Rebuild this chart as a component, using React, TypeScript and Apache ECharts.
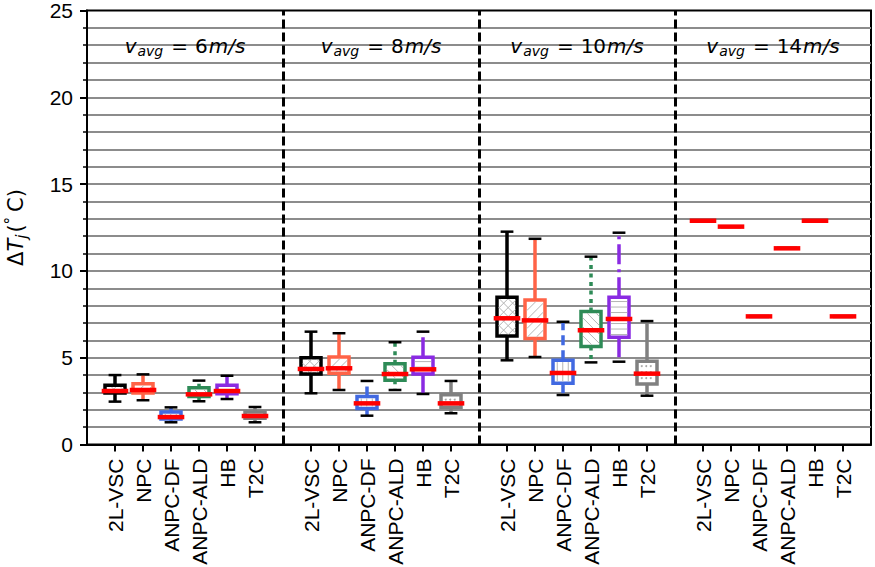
import React, { useEffect, useRef } from 'react';
import * as echarts from 'echarts';

// Converter topologies, repeated in every wind-speed block
const converters = ['2L-VSC', 'NPC', 'ANPC-DF', 'ANPC-ALD', 'HB', 'T2C'];
const windSpeeds = [6, 8, 10, 14];

// [lower whisker, Q1, median, Q3, upper whisker] per converter, in degC
const stats6 = [
  [2.47, 2.97, 3.08, 3.41, 4.0],
  [2.55, 2.97, 3.14, 3.5, 4.04],
  [1.28, 1.47, 1.58, 1.87, 2.14],
  [2.49, 2.77, 2.89, 3.27, 3.68],
  [2.62, 2.93, 3.08, 3.41, 3.96],
  [1.28, 1.51, 1.64, 1.87, 2.16],
];
const stats8 = [
  [2.95, 4.06, 4.35, 5.0, 6.5],
  [3.14, 4.1, 4.39, 5.04, 6.41],
  [1.66, 2.08, 2.37, 2.76, 3.66],
  [3.14, 3.7, 4.06, 4.65, 5.89],
  [2.91, 4.06, 4.33, 5.02, 6.5],
  [1.8, 2.14, 2.37, 2.86, 3.66],
];
const stats10 = [
  [4.85, 6.25, 7.27, 8.48, 12.26],
  [5.04, 6.1, 7.15, 8.33, 11.85],
  [2.85, 3.53, 4.12, 4.85, 7.07],
  [4.73, 5.64, 6.58, 7.66, 10.82],
  [4.77, 6.18, 7.23, 8.48, 12.2],
  [2.81, 3.49, 4.08, 4.79, 7.11],
];
const stats14 = [
  [12.89, 12.89, 12.89, 12.89, 12.89],
  [12.55, 12.55, 12.55, 12.55, 12.55],
  [7.38, 7.38, 7.38, 7.38, 7.38],
  [11.3, 11.3, 11.3, 11.3, 11.3],
  [12.89, 12.89, 12.89, 12.89, 12.89],
  [7.38, 7.38, 7.38, 7.38, 7.38],
];
const statsByWind = [stats6, stats8, stats10, stats14];

// Styling per converter
const boxColors = ['#000000', '#FF6347', '#4169E1', '#2E8B57', '#8A2BE2', '#808080'];
const whiskerDash: (number[] | null)[] = [null, null, [10, 5], [4, 4.5], [20, 5, 3, 5], null];
const hatches = ['x', '/', '|', '\\', '-', '.'];

const GROUP_STRIDE = 7; // six boxes plus one empty slot for the separator
const positions: number[] = [];
windSpeeds.forEach((_, g) => converters.forEach((__, c) => positions.push(g * GROUP_STRIDE + c)));
const separators = [6, 13, 20];

// Liang-Barsky clipping of a segment to a rectangle
function clipSeg(x1: number, y1: number, x2: number, y2: number, rx0: number, ry0: number, rx1: number, ry1: number) {
  const dx = x2 - x1, dy = y2 - y1;
  let t0 = 0, t1 = 1;
  const p = [-dx, dx, -dy, dy];
  const q = [x1 - rx0, rx1 - x1, y1 - ry0, ry1 - y1];
  for (let i = 0; i < 4; i++) {
    if (p[i] === 0) {
      if (q[i] < 0) return null;
    } else {
      const r = q[i] / p[i];
      if (p[i] < 0) { if (r > t1) return null; if (r > t0) t0 = r; }
      else { if (r < t0) return null; if (r < t1) t1 = r; }
    }
  }
  return [x1 + t0 * dx, y1 + t0 * dy, x1 + t1 * dx, y1 + t1 * dy];
}

function hatchElements(kind: string, x0: number, y0: number, x1: number, y1: number) {
  const out: any[] = [];
  const w = x1 - x0, h = y1 - y0;
  if (w <= 1 || h <= 1) return out;
  const st = { stroke: '#b4b4b4', lineWidth: 1 };
  const push = (s: number[] | null) => {
    if (s) out.push({ type: 'line', shape: { x1: s[0], y1: s[1], x2: s[2], y2: s[3] }, style: st, silent: true });
  };
  if (kind === '|') {
    for (let x = x0 + 2.5; x < x1; x += 5.5) push([x, y0, x, y1]);
  } else if (kind === '-') {
    for (let y = y0 + 2.5; y < y1; y += 5.5) push([x0, y, x1, y]);
  } else if (kind === '.') {
    for (let y = y0 + 3; y < y1; y += 6) {
      for (let x = x0 + 3; x < x1; x += 4.5) {
        out.push({ type: 'circle', shape: { cx: x, cy: y, r: 1 }, style: { fill: '#a8a8a8' }, silent: true });
      }
    }
  } else {
    const sp = 9;
    if (kind === '/' || kind === 'x') {
      for (let k = -h; k < w; k += sp) push(clipSeg(x0 + k, y1, x0 + k + h, y0, x0, y0, x1, y1));
    }
    if (kind === '\\' || kind === 'x') {
      for (let k = -h; k < w; k += sp) push(clipSeg(x0 + k, y0, x0 + k + h, y1, x0, y0, x1, y1));
    }
  }
  return out;
}

const boxData = statsByWind.flatMap((stats, g) =>
  stats.map((s, c) => [g * GROUP_STRIDE + c, s[0], s[1], s[2], s[3], s[4], c])
);
const labelData = windSpeeds.map((v, g) => [g * GROUP_STRIDE + 2.5, 22.95, v]);

const mathFont = 'DejaVu Sans';
const tickFont = 'Liberation Sans';

function renderBox(_params: any, api: any) {
  const x = api.value(0);
  const ci = api.value(6);
  const px = api.coord([x, 0])[0];
  const yLow = api.coord([x, api.value(1)])[1];
  const yQ1 = api.coord([x, api.value(2)])[1];
  const yMed = api.coord([x, api.value(3)])[1];
  const yQ3 = api.coord([x, api.value(4)])[1];
  const yHigh = api.coord([x, api.value(5)])[1];
  const color = boxColors[ci];
  const dash = whiskerDash[ci];
  const halfBox = 10, halfCap = 6.4, halfMed = 13.3, lw = 3.5;
  const wStyle: any = { stroke: color, lineWidth: lw };
  if (dash) wStyle.lineDash = dash;
  const children: any[] = [];
  if (yQ3 - yHigh > 0.5) children.push({ type: 'line', shape: { x1: px, y1: yQ3, x2: px, y2: yHigh }, style: wStyle });
  if (yLow - yQ1 > 0.5) children.push({ type: 'line', shape: { x1: px, y1: yQ1, x2: px, y2: yLow }, style: wStyle });
  children.push({
    type: 'rect',
    shape: { x: px - halfBox, y: yQ3, width: halfBox * 2, height: Math.max(yQ1 - yQ3, 0) },
    style: { fill: '#ffffff', stroke: color, lineWidth: lw },
  });
  children.push(...hatchElements(hatches[ci], px - halfBox + lw / 2, yQ3 + lw / 2, px + halfBox - lw / 2, yQ1 - lw / 2));
  const capStyle = { stroke: '#000000', lineWidth: 2.5 };
  children.push({ type: 'line', shape: { x1: px - halfCap, y1: yHigh, x2: px + halfCap, y2: yHigh }, style: capStyle });
  children.push({ type: 'line', shape: { x1: px - halfCap, y1: yLow, x2: px + halfCap, y2: yLow }, style: capStyle });
  children.push({ type: 'line', shape: { x1: px - halfMed, y1: yMed, x2: px + halfMed, y2: yMed }, style: { stroke: '#ff0000', lineWidth: 4.5 } });
  return { type: 'group', children };
}

function renderLabel(_params: any, api: any) {
  const p = api.coord([api.value(0), api.value(1)]);
  return {
    type: 'text',
    x: p[0],
    y: p[1],
    style: {
      text: `{v|v}{s|avg}{e|=}{n|${api.value(2)}}{u|m/s}`,
      align: 'center',
      verticalAlign: 'middle',
      fill: '#000',
      rich: {
        v: { fontFamily: mathFont, fontStyle: 'italic', fontSize: 20, lineHeight: 24, fill: '#000' },
        s: { fontFamily: mathFont, fontStyle: 'italic', fontSize: 14, lineHeight: 14, verticalAlign: 'bottom', fill: '#000', padding: [0, 0, 0, 1] },
        e: { fontFamily: mathFont, fontSize: 20, lineHeight: 24, padding: [0, 7, 0, 8], fill: '#000' },
        n: { fontFamily: mathFont, fontSize: 20, lineHeight: 24, fill: '#000' },
        u: { fontFamily: mathFont, fontStyle: 'italic', fontSize: 20, lineHeight: 24, fill: '#000', padding: [0, 0, 0, 1] },
      },
    },
  };
}

export default function App() {
  const ref = useRef<HTMLDivElement>(null);
  useEffect(() => {
    if (!ref.current) return;
    const chart = echarts.init(ref.current, null, { renderer: 'svg' });
    const gray = '#8c8c8c';
    chart.setOption({
      animation: false,
      backgroundColor: '#ffffff',
      grid: {
        left: 87, right: 4, top: 10.5, bottom: 122.5,
        show: true, borderColor: '#000', borderWidth: 2, backgroundColor: 'transparent',
        outerBoundsMode: 'none', containLabel: false,
      },
      xAxis: {
        type: 'value', min: -1, max: 27,
        axisLine: { show: true, onZero: false, lineStyle: { color: '#000', width: 2 } },
        axisTick: { show: true, customValues: positions, length: 7, lineStyle: { color: '#000', width: 2 } },
        axisLabel: {
          customValues: positions, rotate: 90, fontSize: 21, fontFamily: tickFont, color: '#000', margin: 14,
          formatter: (v: number) => converters[((Math.round(v) % GROUP_STRIDE) + GROUP_STRIDE) % GROUP_STRIDE] || '',
        },
        splitLine: { show: false },
      },
      yAxis: {
        type: 'value', min: 0, max: 25, interval: 5,
        name: '{d|Δ}{t|T}{j|j}{p|(}{o|°}{c|C)}',
        nameLocation: 'middle', nameGap: 58, nameRotate: 90,
        nameTextStyle: {
          color: '#000',
          rich: {
            d: { fontFamily: mathFont, fontSize: 21, lineHeight: 26, color: '#000' },
            t: { fontFamily: mathFont, fontStyle: 'italic', fontSize: 21, lineHeight: 26, color: '#000' },
            j: { fontFamily: mathFont, fontStyle: 'italic', fontSize: 15, lineHeight: 14, verticalAlign: 'bottom', color: '#000' },
            p: { fontFamily: mathFont, fontSize: 21, lineHeight: 26, color: '#000', padding: [0, 0, 0, 2] },
            o: { fontFamily: mathFont, fontSize: 15, lineHeight: 15, verticalAlign: 'top', color: '#000', padding: [0, 5, 0, 0] },
            c: { fontFamily: mathFont, fontSize: 21, lineHeight: 26, color: '#000' },
          },
        },
        axisLine: { show: true, onZero: false, lineStyle: { color: '#000', width: 2 } },
        axisTick: { show: true, length: 7, lineStyle: { color: '#000', width: 2 } },
        minorTick: { show: true, splitNumber: 5, length: 4, lineStyle: { color: '#000', width: 1.5 } },
        axisLabel: { fontSize: 21, fontFamily: tickFont, color: '#000', margin: 14 },
        splitLine: { show: true, showMinLine: false, showMaxLine: false, lineStyle: { color: gray, width: 2 } },
        minorSplitLine: { show: true, lineStyle: { color: gray, width: 2 } },
      },
      series: [
        {
          type: 'custom',
          renderItem: renderBox,
          data: boxData,
          encode: { x: 0, y: [1, 2, 3, 4, 5] },
          z: 3,
          markLine: {
            silent: true,
            symbol: ['none', 'none'],
            label: { show: false },
            lineStyle: { color: '#000', width: 3, type: [9, 4] },
            data: separators.map((s) => ({ xAxis: s })),
          },
        },
        {
          type: 'custom',
          renderItem: renderLabel,
          data: labelData,
          encode: { x: 0, y: 1 },
          z: 4,
          silent: true,
        },
      ],
    });
    return () => chart.dispose();
  }, []);
  return <div ref={ref} style={{ position: 'fixed', left: 0, top: 0, width: 875, height: 567 }} />;
}
